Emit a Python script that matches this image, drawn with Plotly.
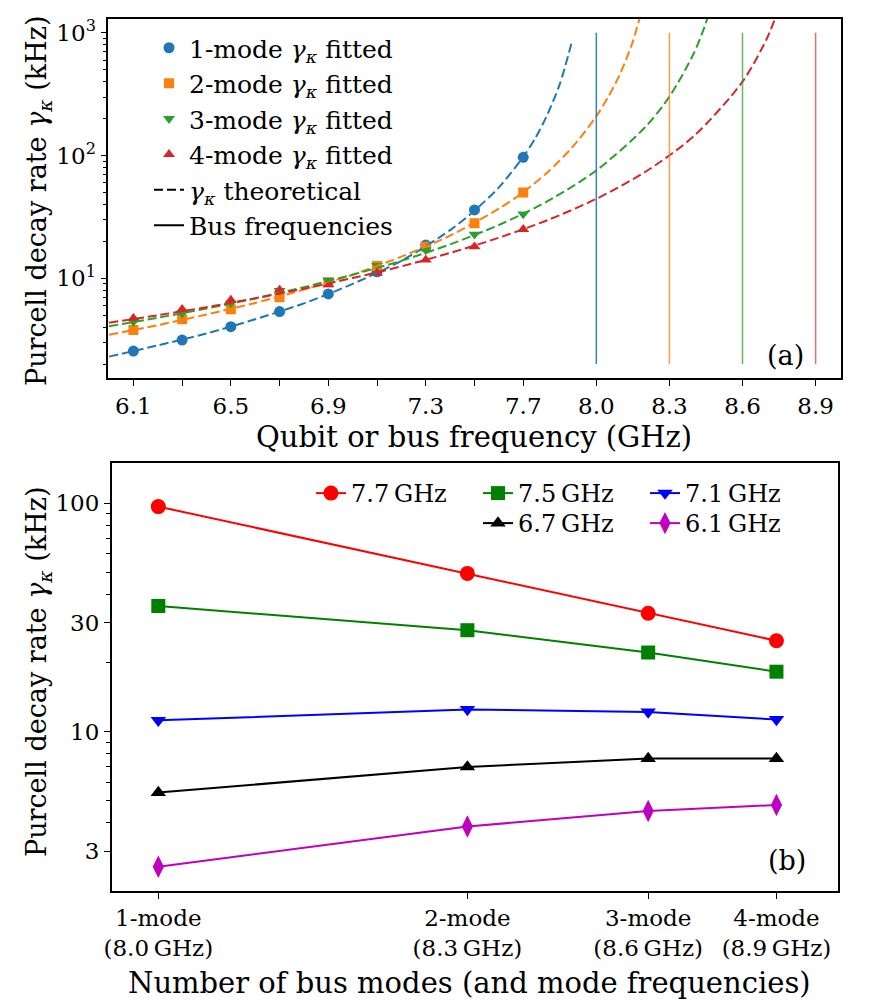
import plotly.graph_objects as go

# ---------------- data: panel (a) ----------------
qubit_freqs = [6.1, 6.3, 6.5, 6.7, 6.9, 7.1, 7.3, 7.5, 7.7]
fit_1mode = [2.55, 3.14, 4.03, 5.35, 7.45, 11.3, 18.7, 36.1, 96.8]
fit_2mode = [3.79, 4.63, 5.59, 7.0, 9.3, 12.6, 18.1, 28.1, 49.9]
fit_3mode = [4.43, 5.19, 6.25, 7.93, 9.6, 12.7, 17.0, 22.8, 33.4]
fit_4mode = [4.72, 5.59, 6.65, 8.03, 8.9, 11.0, 14.1, 18.1, 25.1]

theo_x_1 = [6.0, 6.2, 6.4, 6.6, 6.8, 7.0, 7.2, 7.4, 7.5, 7.6, 7.7, 7.75, 7.8, 7.85, 7.9]
theo_y_1 = [2.30, 2.84, 3.55, 4.64, 6.25, 9.0, 13.9, 24.7, 35.6, 55.0, 97.8, 139, 218, 382, 850]
theo_x_2 = [6.0, 6.2, 6.4, 6.6, 6.8, 7.0, 7.2, 7.4, 7.6, 7.7, 7.8, 7.9, 8.0, 8.05, 8.1, 8.15, 8.2]
theo_y_2 = [3.46, 4.15, 5.07, 6.30, 8.09, 10.7, 15.0, 22.3, 36.9, 50.3, 73.2, 116, 209, 304, 475, 853, 1930]
theo_x_3 = [6.0, 6.2, 6.4, 6.6, 6.8, 7.0, 7.2, 7.4, 7.6, 7.8, 8.0, 8.2, 8.3, 8.4, 8.45, 8.5]
theo_y_3 = [4.07, 4.77, 5.68, 6.85, 8.46, 10.7, 13.9, 18.9, 27.2, 42.5, 75.6, 170, 302, 680, 1209, 2720]
theo_x_4 = [6.0, 6.2, 6.4, 6.6, 6.8, 7.0, 7.2, 7.4, 7.6, 7.8, 8.0, 8.2, 8.4, 8.6, 8.7, 8.75]
theo_y_4 = [4.34, 5.0, 5.82, 6.88, 8.23, 10.06, 12.5, 16.1, 21.4, 29.8, 44.4, 73.5, 144, 400, 900, 1600]

bus_freqs = [8.0, 8.3, 8.6, 8.9]
bus_line_span = [2, 1000]

top_tickvals = [6.1, 6.3, 6.5, 6.7, 6.9, 7.1, 7.3, 7.5, 7.7, 8.0, 8.3, 8.6, 8.9]
top_ticktext = ["6.1", "", "6.5", "", "6.9", "", "7.3", "", "7.7", "8.0", "8.3", "8.6", "8.9"]

# ---------------- data: panel (b) ----------------
n_modes = [1, 2, 3, 4]
mode_labels = ["1-mode<br>(8.0\u2009GHz)", "2-mode<br>(8.3\u2009GHz)",
               "3-mode<br>(8.6\u2009GHz)", "4-mode<br>(8.9\u2009GHz)"]
b_77 = [96.7, 49.3, 33.0, 25.0]
b_75 = [35.5, 27.8, 22.2, 18.3]
b_71 = [11.2, 12.5, 12.2, 11.3]
b_67 = [5.41, 7.0, 7.62, 7.62]
b_61 = [2.56, 3.84, 4.49, 4.77]

FONT = "DejaVu Serif"
tab = ["#1f77b4", "#ff7f0e", "#2ca02c", "#d62728"]
bus_cols = ["rgba(31,119,180,0.9)", "rgba(255,127,14,0.75)",
            "rgba(44,160,44,0.75)", "rgba(214,39,40,0.65)"]

# page body has an 8px margin: size the figure so it fits the window exactly
OFF = 8
W, H = 873 - 2 * OFF, 1007 - 2 * OFF


def PX(x):
    return (x - OFF) / W


def PY(y):
    return 1 - (y - OFF) / H


fig = go.Figure()

fits = [fit_1mode, fit_2mode, fit_3mode, fit_4mode]
symbols = ["circle", "square", "triangle-down", "triangle-up"]
sizes = [11, 10, 10.5, 10.5]
for i in range(4):
    fig.add_trace(go.Scatter(
        x=qubit_freqs, y=fits[i], mode="markers",
        marker=dict(symbol=symbols[i], color=tab[i], size=sizes[i], line=dict(width=0)),
        name=f"{i+1}-mode <i>γ</i><sub><i>κ</i></sub> fitted",
        legend="legend", legendgroup=f"g{i}", xaxis="x", yaxis="y"))

theos = [(theo_x_1, theo_y_1), (theo_x_2, theo_y_2), (theo_x_3, theo_y_3), (theo_x_4, theo_y_4)]
for i, (tx, ty) in enumerate(theos):
    fig.add_trace(go.Scatter(
        x=tx, y=ty, mode="lines", line=dict(color=tab[i], width=2, dash="9px,4px", shape="spline",
                                            smoothing=0.8),
        showlegend=False, xaxis="x", yaxis="y", hoverinfo="skip"))

for i, f in enumerate(bus_freqs):
    fig.add_trace(go.Scatter(
        x=[f, f], y=bus_line_span, mode="lines", line=dict(color=bus_cols[i], width=1.5),
        showlegend=False, xaxis="x", yaxis="y"))

fig.add_trace(go.Scatter(x=[None], y=[None], mode="lines",
                         line=dict(color="black", width=2, dash="9px,4px"),
                         name="<i>γ</i><sub><i>κ</i></sub> theoretical",
                         legend="legend", legendgroup="g4", xaxis="x", yaxis="y"))
fig.add_trace(go.Scatter(x=[None], y=[None], mode="lines",
                         line=dict(color="black", width=2),
                         name="Bus frequencies",
                         legend="legend", legendgroup="g5", xaxis="x", yaxis="y"))

# panel (b)
series_b = [
    (b_77, "7.7\u2009GHz", "#ff0000", "circle", 15, "legend2"),
    (b_75, "7.5\u2009GHz", "#008000", "square", 14, "legend2"),
    (b_71, "7.1\u2009GHz", "#0000ff", "triangle-down", 13.5, "legend2"),
    (b_67, "6.7\u2009GHz", "#000000", "triangle-up", 13.5, "legend3"),
    (b_61, "6.1\u2009GHz", "#bf00bf", "diamond-tall", 16, "legend3"),
]
for vals, nm, col, sym, sz, lg in series_b:
    fig.add_trace(go.Scatter(
        x=n_modes, y=vals, mode="lines+markers", name=nm,
        line=dict(color=col, width=2),
        marker=dict(symbol=sym, color=col, size=sz, line=dict(width=0)),
        legend=lg, xaxis="x2", yaxis="y2"))

axis_common = dict(showline=True, mirror=True, linecolor="black", linewidth=1.6,
                   ticks="outside", ticklen=6, tickwidth=1.4, tickcolor="black",
                   showgrid=False, zeroline=False, automargin=False,
                   tickfont=dict(family=FONT, size=23, color="black"))

minor_top = [v * 10 ** k for k in range(0, 4) for v in range(2, 10)]
minor_bot = [2, 4, 5, 6, 7, 8, 9, 20, 40, 50, 60, 70, 80, 90]

fig.update_layout(
    width=W, height=H, margin=dict(l=0, r=0, t=0, b=0, autoexpand=False),
    paper_bgcolor="white", plot_bgcolor="white",
    font=dict(family=FONT, color="black"),
    xaxis=dict(domain=[PX(108.3), PX(840.7)], range=[5.997, 9.003], anchor="y",
               tickmode="array", tickvals=top_tickvals, ticktext=top_ticktext, **axis_common),
    yaxis=dict(domain=[PY(378.3), PY(19)], type="log", range=[0.185, 3.113], anchor="x",
               tickmode="array", tickvals=[10, 100, 1000],
               ticktext=["10<sup>1</sup>", "10<sup>2</sup>", "10<sup>3</sup>"],
               minor=dict(tickmode="array", tickvals=minor_top, ticks="outside", ticklen=3.5,
                          tickwidth=1, tickcolor="black"),
               **axis_common),
    xaxis2=dict(domain=[PX(111.7), PX(838)], type="log", range=[-0.0454, 0.662], anchor="y2",
                tickmode="array", tickvals=n_modes, ticktext=mode_labels, **axis_common),
    yaxis2=dict(domain=[PY(891), PY(463.3)], type="log", range=[0.302, 2.175], anchor="x2",
                tickmode="array", tickvals=[3, 10, 30, 100], ticktext=["3", "10", "30", "100"],
                minor=dict(tickmode="array", tickvals=minor_bot, ticks="outside", ticklen=3.5,
                           tickwidth=1, tickcolor="black"),
                **axis_common),
    legend=dict(x=PX(149), y=PY(25), xanchor="left", yanchor="top",
                bgcolor="rgba(0,0,0,0)", font=dict(family=FONT, size=25),
                tracegroupgap=0, traceorder="grouped"),
    legend2=dict(x=PX(812), y=PY(471), xanchor="right", yanchor="top", orientation="h",
                 bgcolor="rgba(0,0,0,0)", font=dict(family=FONT, size=24),
                 entrywidth=122, entrywidthmode="pixels"),
    legend3=dict(x=PX(812), y=PY(501), xanchor="right", yanchor="top", orientation="h",
                 bgcolor="rgba(0,0,0,0)", font=dict(family=FONT, size=24),
                 entrywidth=122, entrywidthmode="pixels"),
)

ann_font = dict(family=FONT, size=27, color="black")
common_ann = dict(xref="paper", yref="paper", showarrow=False, xanchor="center", yanchor="middle")
fig.add_annotation(text="Qubit or bus frequency (GHz)", x=PX(474), y=PY(437),
                   font=dict(family=FONT, size=29, color="black"), **common_ann)
fig.add_annotation(text="Number of bus modes (and mode frequencies)", x=PX(470), y=PY(983),
                   font=dict(family=FONT, size=29, color="black"), **common_ann)
fig.add_annotation(text="Purcell decay rate <i>γ</i><sub><i>κ</i></sub> (kHz)", x=PX(38), y=PY(201),
                   textangle=-90, font=ann_font, **common_ann)
fig.add_annotation(text="Purcell decay rate <i>γ</i><sub><i>κ</i></sub> (kHz)", x=PX(38), y=PY(672),
                   textangle=-90, font=ann_font, **common_ann)
fig.add_annotation(text="(a)", x=PX(785), y=PY(355), font=dict(family=FONT, size=27, color="black"),
                   **common_ann)
fig.add_annotation(text="(b)", x=PX(787), y=PY(860), font=dict(family=FONT, size=27, color="black"),
                   **common_ann)

fig.write_html("out.html")
